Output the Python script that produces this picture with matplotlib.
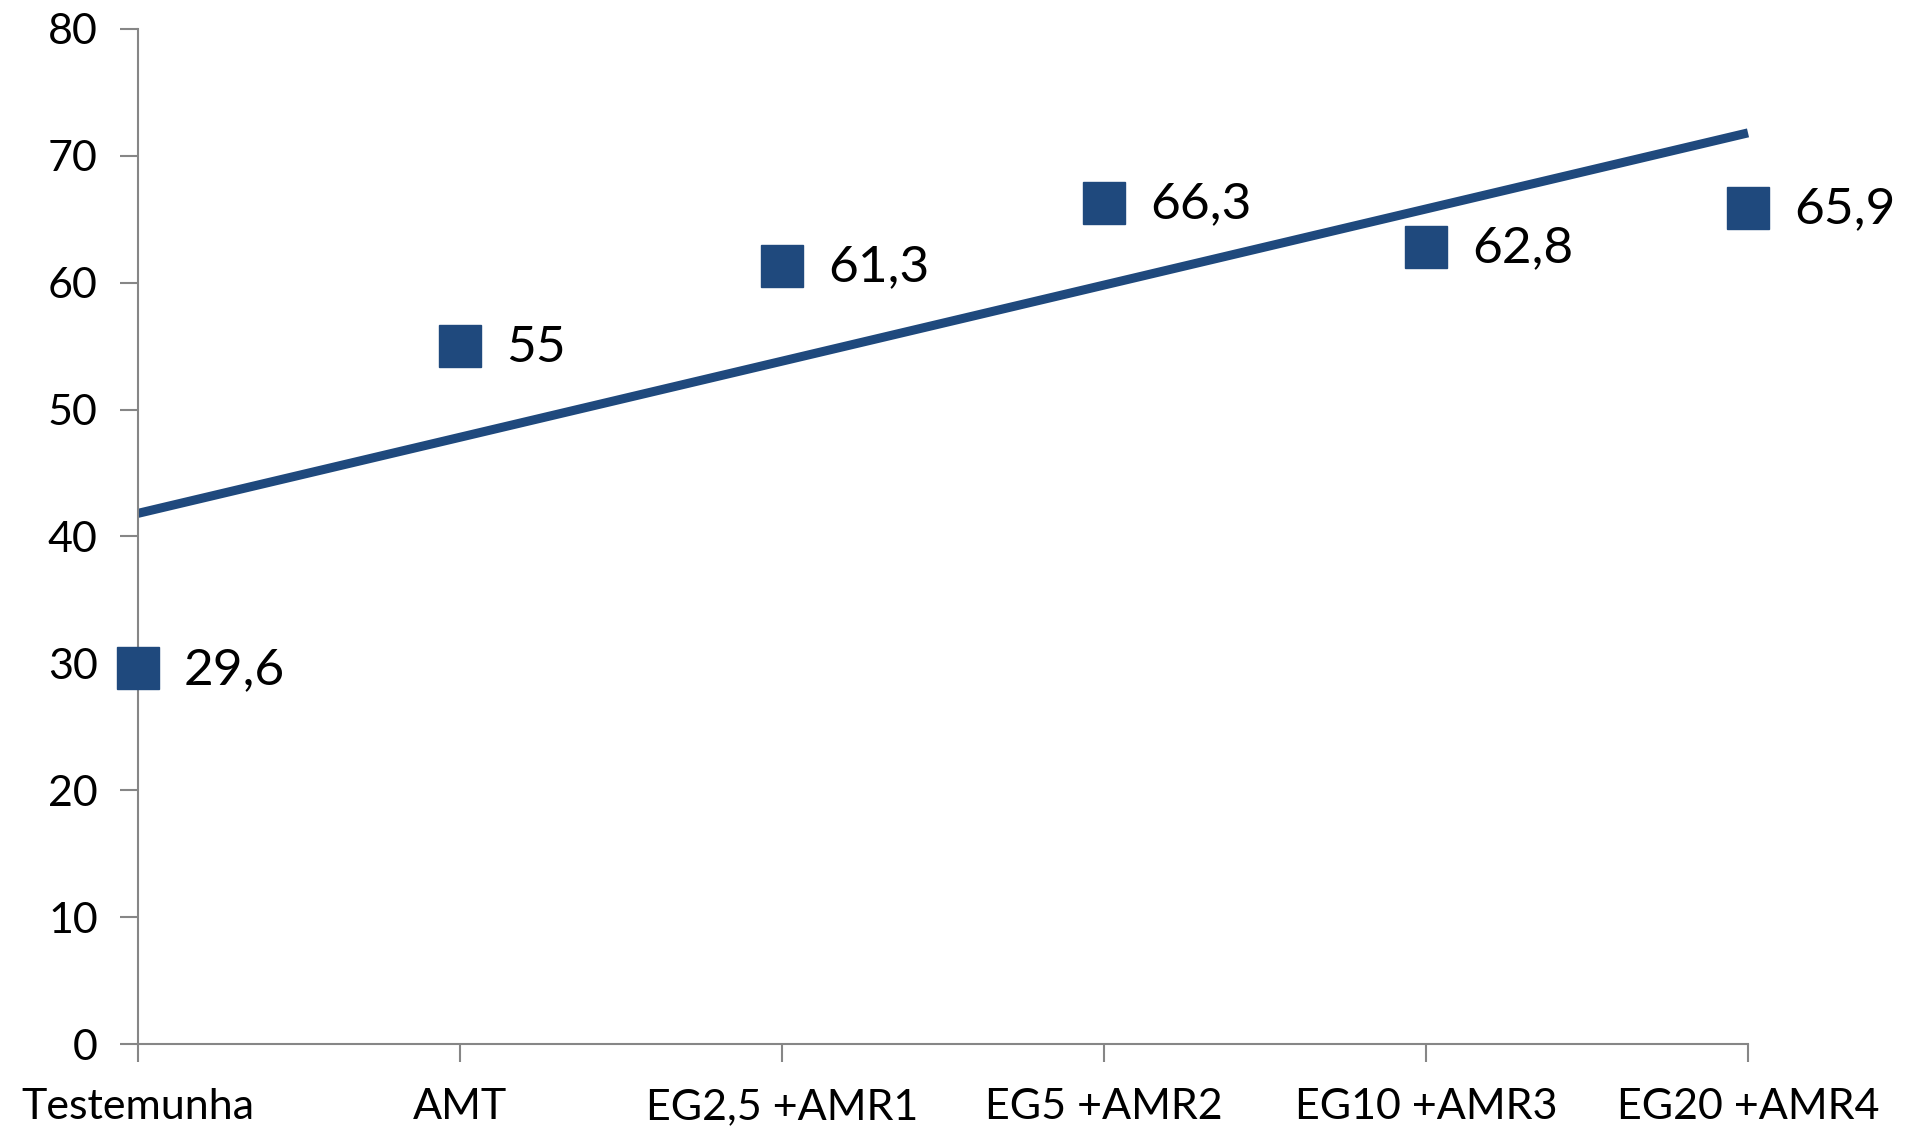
import numpy as np
import matplotlib
matplotlib.use("Agg")
import matplotlib.pyplot as plt

categories = ["Testemunha", "AMT", "EG2,5 +AMR1", "EG5 +AMR2", "EG10 +AMR3", "EG20 +AMR4"]
values = [29.6, 55, 61.3, 66.3, 62.8, 65.9]
labels = ["29,6", "55", "61,3", "66,3", "62,8", "65,9"]
yticks = [0, 10, 20, 30, 40, 50, 60, 70, 80]

plt.rcParams['font.family'] = ['Lato', 'DejaVu Sans']
blue = "#1F497D"
gray = "#868686"

fig = plt.figure(figsize=(19.15, 11.31), dpi=100)
ax = fig.add_axes([0.0721, 0.0769, 0.9128 - 0.0721, 0.9744 - 0.0769])

x = np.arange(len(categories))
coef = np.polyfit(x, values, 1)
xt = np.array([x[0], x[-1]])
ax.plot(xt, np.polyval(coef, xt), color=blue, lw=6.5, solid_capstyle='butt', zorder=2, clip_on=False)
ax.plot(x, values, linestyle='none', marker='s', markersize=30, color=blue, zorder=3, clip_on=False)

for xi, v, lab in zip(x, values, labels):
    ax.annotate(lab, (xi, v), xytext=(33, -1), textcoords='offset points',
                va='center', ha='left', fontsize=37, color='black')

ax.set_xlim(0, 5)
ax.set_ylim(0, 80)
ax.set_yticks(yticks)
ax.set_xticks(x)
ax.set_xticklabels(categories)
for s in ['top', 'right']:
    ax.spines[s].set_visible(False)
for s in ['left', 'bottom']:
    ax.spines[s].set_color(gray)
    ax.spines[s].set_linewidth(1.5)
ax.tick_params(axis='both', colors=gray, length=13, width=1.5, labelcolor='black', labelsize=31)
ax.tick_params(axis='y', pad=16)
ax.tick_params(axis='x', pad=19)

fig.savefig("out.png", dpi=100)
